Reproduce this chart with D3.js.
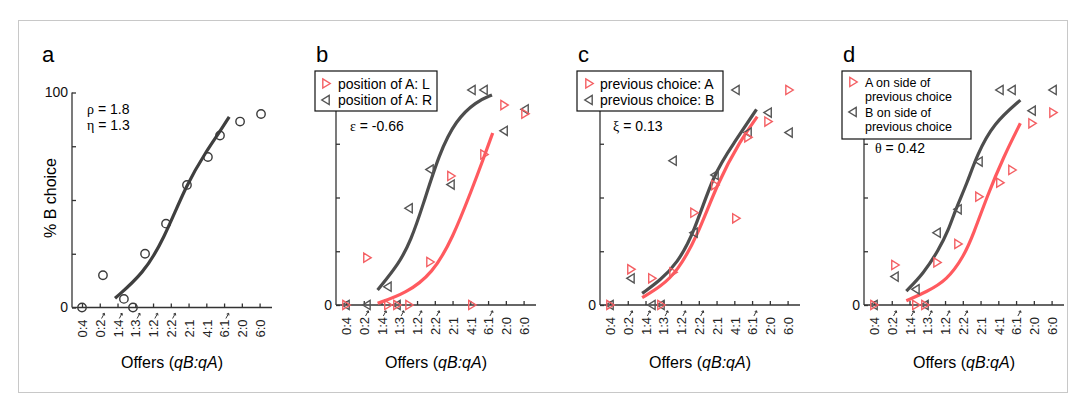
<!DOCTYPE html>
<html>
<head>
<meta charset="utf-8">
<script src="https://cdn.jsdelivr.net/npm/d3@7"></script>
<style>
  body { margin: 0; background: #fff; }
  svg { display: block; font-family: "Liberation Sans", Arial, sans-serif; }
</style>
</head>
<body>
<svg id="chart" width="1081" height="399"></svg>
<script>
// offer types (tick labels) and where each offer sits on the log-ratio axis, in tick units
const offers = ["0:4", "0:2", "1:4", "1:3", "1:2", "2:2", "2:1", "4:1", "6:1", "2:0", "6:0"];
const offerArrow = [false, true, true, true, true, true, false, false, true, false, false];
const offerPos = [0, 1.18, 2.36, 2.87, 3.55, 4.73, 5.91, 7.09, 7.77, 8.9, 10.08];

// panel a
const choiceAll = [0, 15, 4, 0, 25, 39, 57, 70, 80, 86.5, 90];
const fitAllX = [1.86, 3.45, 4.58, 5.89, 7.02, 7.73, 8.29];
const fitAllY = [4.3, 15.8, 31.2, 57.5, 72.9, 81.4, 88.7];

// panel b
const posL = [0, 22, 0, 0, 0, 20, 60, 0, 70, 93, 89];
const posR = [0, 0, 8.5, 0, 45, 63, 56, 100, 100, 81, 91];
const fitPosLX = [1.78, 3.38, 4.88, 6.0, 7.1, 7.69, 8.26];
const fitPosLY = [0.8, 5.4, 14.7, 31, 54, 67, 80];
const fitPosRX = [1.78, 3.0, 3.66, 4.31, 5.25, 6.19, 7.32, 8.22];
const fitPosRY = [7, 19.4, 30.2, 45.7, 70.6, 86, 94.6, 97.7];

// panel c
const prevA = [0, 16.6, 12.4, 0, 15.2, 42.9, 55.8, 40.3, 78, 85.3, 100];
const prevB = [0, 12.4, 0, 0, 67.1, 33.6, 60.5, 100, 80.2, 89.5, 80.2];
const fitPrevAX = [1.81, 2.84, 3.78, 4.91, 6.04, 7.35, 8.29];
const fitPrevAY = [3.4, 8.5, 15.5, 31.8, 56.6, 76.7, 87.6];
const fitPrevBX = [1.81, 2.84, 3.78, 4.72, 5.84, 6.97, 8.25];
const fitPrevBY = [5.4, 11.6, 19.4, 33.3, 61.3, 75.2, 91];

// panel d
const sideA = [0, 18.6, 0, 0, 19.8, 28.4, 50.4, 56.9, 62.8, 84.5, 89.5];
const sideB = [0, 13.2, 7.3, 0, 33.6, 44.5, 66.7, 100, 100, 90.4, 100];
const fitSideAX = [1.82, 2.98, 4.11, 5.05, 5.6, 6.36, 7.3, 8.24];
const fitSideAY = [2, 6.2, 11.6, 22.5, 33, 50.4, 69, 84.5];
const fitSideBX = [1.82, 2.79, 3.64, 4.2, 4.58, 5.24, 5.8, 6.73, 8.24];
const fitSideBY = [6.5, 14.7, 25.6, 34.9, 44.2, 56.6, 69.8, 84.5, 95.3];

const yTicks = [0, 25, 50, 75, 100];

const RED = "#f45f63";
const GRAY = "#4d4d4d";
const AXIS = "#333";

const svg = d3.select("#chart");

// figure frame
svg.append("rect")
    .attr("x", 18.5).attr("y", 20.5)
    .attr("width", 1049).attr("height", 372)
    .attr("fill", "none")
    .attr("stroke", "#c8c8c8")
    .attr("stroke-width", 1);

const pairs = (xs, ys) => xs.map((x, i) => [x, ys[i]]);
const triRight = "M-3.2,-4.6L4.2,0L-3.2,4.6Z";
const triLeft = "M3.2,-4.6L-4.2,0L3.2,4.6Z";

function drawPanel(opt) {
    const g = svg.append("g").attr("transform", `translate(${opt.left},0)`);
    const x = d3.scaleLinear().domain([-10 / 17.76, 190 / 17.76]).range([0, 200]);
    const y = d3.scaleLinear().domain([0, 100]).range([opt.bottom, opt.bottom - 215]);
    const b = opt.bottom;

    // panel letter
    svg.append("text")
        .attr("x", opt.left + opt.letterDx).attr("y", 62)
        .attr("font-size", 22)
        .text(opt.letter);

    // y axis
    const yAxis = d3.axisLeft(y).tickValues(yTicks).tickSize(-4).tickPadding(4)
        .tickFormat(d => (d === 0 || (d === 100 && opt.show100)) ? d : "");
    const ya = g.append("g").call(yAxis);
    ya.select(".domain").attr("d", `M0,${y(100)}V${y(0)}`);
    ya.selectAll("path, line").attr("stroke", AXIS).attr("stroke-width", 1.3);
    ya.selectAll("text").attr("font-size", 14).attr("fill", "#111")
        .attr("font-family", "Liberation Sans, Arial, sans-serif");

    // x axis
    const xa = g.append("g").attr("transform", `translate(0,${b})`)
        .call(d3.axisBottom(x).tickValues(d3.range(offers.length)).tickSize(-4).tickFormat(""));
    xa.select(".domain").attr("d", "M0,0H200");
    xa.selectAll("path, line").attr("stroke", AXIS).attr("stroke-width", 1.3);

    offers.forEach((lab, i) => {
        const tx = x(i);
        g.append("text")
            .attr("transform", `translate(${tx + 0.5},${b + 12}) rotate(-90)`)
            .attr("text-anchor", "end")
            .attr("dy", "0.36em")
            .attr("font-size", 13)
            .attr("fill", "#222")
            .text(lab);
        if (offerArrow[i]) {
            g.append("path")
                .attr("d", `M${tx + 1.8},${b + 11}L${tx + 4.4},${b + 6.2}` +
                           `M${tx + 2.6},${b + 6.6}L${tx + 4.6},${b + 5.8}L${tx + 4.9},${b + 8}`)
                .attr("fill", "none")
                .attr("stroke", "#222")
                .attr("stroke-width", 0.9);
        }
    });

    g.append("text")
        .attr("x", 100).attr("y", 368)
        .attr("text-anchor", "middle")
        .attr("font-size", 16)
        .call(t => {
            t.append("tspan").text("Offers (");
            t.append("tspan").attr("font-style", "italic").text("qB:qA");
            t.append("tspan").text(")");
        });

    // fitted curves
    const line = d3.line().x(d => x(d[0])).y(d => y(d[1])).curve(d3.curveBasis);
    opt.fits.forEach(f => {
        g.append("path")
            .attr("d", line(pairs(f.xs, f.ys)))
            .attr("fill", "none")
            .attr("stroke", f.color)
            .attr("stroke-width", 3.2);
    });

    // data markers
    opt.series.forEach(s => {
        const pts = g.append("g");
        s.values.forEach((v, i) => {
            const px = x(offerPos[i]), py = y(v);
            if (s.shape === "circle") {
                pts.append("circle")
                    .attr("cx", px).attr("cy", py).attr("r", 4.2)
                    .attr("fill", "none").attr("stroke", s.color).attr("stroke-width", 1.4);
            } else {
                pts.append("path")
                    .attr("transform", `translate(${px},${py})`)
                    .attr("d", s.shape === "right" ? triRight : triLeft)
                    .attr("fill", "none").attr("stroke", s.color).attr("stroke-width", 1.4);
            }
        });
    });

    // parameter text
    opt.params.forEach((p, i) => {
        g.append("text")
            .attr("x", opt.paramDx).attr("y", opt.paramY + i * 16)
            .attr("font-size", 14)
            .call(t => {
                t.append("tspan").attr("font-family", "Liberation Serif, serif").text(p[0]);
                t.append("tspan").text(p[1]);
            });
    });

    // legend
    if (opt.legend) {
        const L = opt.legend;
        const lg = g.append("g").attr("transform", `translate(${L.dx},71)`);
        lg.append("rect")
            .attr("x", 0).attr("y", 0).attr("width", L.w).attr("height", L.h)
            .attr("fill", "#fff").attr("stroke", "#111").attr("stroke-width", 1.2);
        L.items.forEach((it, i) => {
            const cy = L.rowY[i];
            lg.append("path")
                .attr("transform", `translate(${L.markX},${cy})`)
                .attr("d", it.shape === "right" ? triRight : triLeft)
                .attr("fill", "none").attr("stroke", it.color).attr("stroke-width", 1.4);
            it.lines.forEach((ln, j) => {
                lg.append("text")
                    .attr("x", L.textX).attr("y", cy + 5 + j * (L.lineGap || 0))
                    .attr("font-size", L.fontSize || 14)
                    .text(ln);
            });
        });
    }
}

// panel a
drawPanel({
    left: 72, bottom: 307.5, letter: "a", letterDx: -30, show100: true,
    fits: [{ xs: fitAllX, ys: fitAllY, color: "#3f3f3f" }],
    series: [{ values: choiceAll, shape: "circle", color: "#3a3a3a" }],
    params: [["ρ", " = 1.8"], ["η", " = 1.3"]], paramDx: 15, paramY: 114
});

svg.append("text")
    .attr("transform", "translate(56,198) rotate(-90)")
    .attr("text-anchor", "middle")
    .attr("font-size", 16)
    .text("% B choice");

// panel b
drawPanel({
    left: 336, bottom: 305, letter: "b", letterDx: -20,
    fits: [
        { xs: fitPosRX, ys: fitPosRY, color: GRAY },
        { xs: fitPosLX, ys: fitPosLY, color: "#ff5a5f" }
    ],
    series: [
        { values: posR, shape: "left", color: "#555" },
        { values: posL, shape: "right", color: RED }
    ],
    params: [["ε", " = -0.66"]], paramDx: 14, paramY: 131,
    legend: {
        dx: -21, w: 122, h: 40, markX: 11, textX: 23, rowY: [12.5, 29],
        items: [
            { shape: "right", color: RED, lines: ["position of A: L"] },
            { shape: "left", color: "#555", lines: ["position of A: R"] }
        ]
    }
});

// panel c
drawPanel({
    left: 600, bottom: 305, letter: "c", letterDx: -22,
    fits: [
        { xs: fitPrevBX, ys: fitPrevBY, color: GRAY },
        { xs: fitPrevAX, ys: fitPrevAY, color: "#ff5a5f" }
    ],
    series: [
        { values: prevB, shape: "left", color: "#555" },
        { values: prevA, shape: "right", color: RED }
    ],
    params: [["ξ", " = 0.13"]], paramDx: 13, paramY: 131,
    legend: {
        dx: -23, w: 146, h: 40, markX: 12, textX: 23, rowY: [12.5, 29],
        items: [
            { shape: "right", color: RED, lines: ["previous choice: A"] },
            { shape: "left", color: "#555", lines: ["previous choice: B"] }
        ]
    }
});

// panel d
drawPanel({
    left: 864, bottom: 305, letter: "d", letterDx: -21,
    fits: [
        { xs: fitSideBX, ys: fitSideBY, color: GRAY },
        { xs: fitSideAX, ys: fitSideAY, color: "#ff5a5f" }
    ],
    series: [
        { values: sideB, shape: "left", color: "#555" },
        { values: sideA, shape: "right", color: RED }
    ],
    params: [["θ", " = 0.42"]], paramDx: 11, paramY: 153,
    legend: {
        dx: -22, w: 129, h: 68, markX: 11, textX: 23, rowY: [11, 41],
        fontSize: 12.5, lineGap: 14,
        items: [
            { shape: "right", color: RED, lines: ["A on side of", "previous choice"] },
            { shape: "left", color: "#555", lines: ["B on side of", "previous choice"] }
        ]
    }
});
</script>
</body>
</html>
